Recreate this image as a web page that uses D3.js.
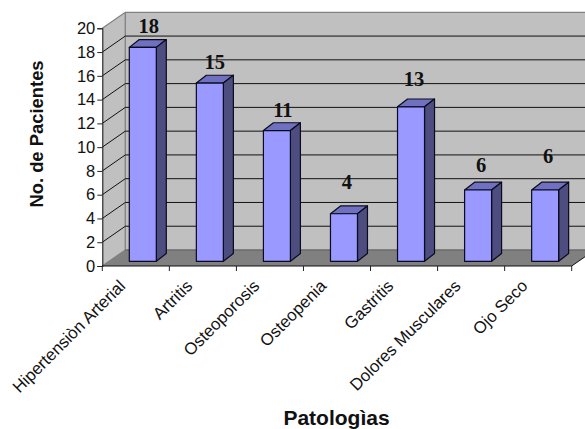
<!DOCTYPE html>
<html><head><meta charset="utf-8">
<script src="https://cdn.jsdelivr.net/npm/d3@7/dist/d3.min.js"></script>
<style>html,body{margin:0;padding:0;background:#fff;overflow:hidden}svg{display:block}</style></head>
<body><svg id="c" width="585" height="429"></svg>
<script>
const categories=["Hipertensiòn Arterial","Artritis","Osteoporosis","Osteopenia","Gastritis","Dolores Musculares","Ojo Seco"];
const values=[18,15,11,4,13,6,6];
const yTicks=[0,2,4,6,8,10,12,14,16,18,20];
const labelLift=[7,6,6,17,13,10,19];
const labelNudge=[1,0,1,-2,-2,-2,-2];

const svg=d3.select("#c");
const x=d3.scaleBand().domain(categories).range([102.3,571.7]);
const y=d3.scaleLinear().domain([0,20]).range([266,28.3]);
const dx=23,dy=-16;            // wall depth
const bdx=10,bdy=-7.8;         // bar depth
const barW=27,barInset=27,barDrop=-4.7;
const poly=(pts,fill,stroke,sw)=>svg.append("polygon").attr("points",pts.map(p=>p.join(",")).join(" "))
  .attr("fill",fill).attr("stroke",stroke||"none").attr("stroke-width",sw||0).attr("stroke-linejoin","round");
const x0=x.range()[0],x1=x.range()[1],y0=y(0),yT=y(20);

// walls and floor
poly([[x0+dx,yT+dy],[x1+dx,yT+dy],[x1+dx,y0+dy],[x0+dx,y0+dy]],"#c0c0c0");
poly([[x0,yT],[x0+dx,yT+dy],[x0+dx,y0+dy],[x0,y0]],"#c0c0c0");
poly([[x0,y0],[x0+dx,y0+dy],[x1+dx,y0+dy],[x1,y0]],"#808080");
svg.append("path").attr("fill","none").attr("stroke","#808080").attr("stroke-width",1.3)
  .attr("d",`M${x0},${yT}L${x0+dx},${yT+dy}L${x1+dx},${yT+dy}M${x0+dx},${yT+dy}L${x0+dx},${y0+dy}L${x0},${y0}`);
svg.append("line").attr("x1",x0+dx).attr("x2",x1+dx).attr("y1",y0+dy).attr("y2",y0+dy).attr("stroke","#6a6a6a").attr("stroke-width",1.3);

// gridlines
yTicks.filter(t=>t>0&&t<20).forEach(t=>{
  svg.append("path").attr("fill","none").attr("stroke","#111").attr("stroke-width",1)
    .attr("d",`M${x0},${y(t)}L${x0+dx},${y(t)+dy}L${x1+dx},${y(t)+dy}`);
});
svg.append("line").attr("x1",x1).attr("x2",x1+dx).attr("y1",y0).attr("y2",y0+dy).attr("stroke","#111");

// axes
const gy=svg.append("g").attr("transform",`translate(${x0},0)`).call(d3.axisLeft(y).tickValues(yTicks).tickSize(5).tickPadding(2));
gy.select(".domain").attr("stroke","#222").attr("stroke-width",1.1);
gy.selectAll(".tick line").attr("stroke","#222");
gy.selectAll("text").attr("font-family","Liberation Sans").attr("font-size",16.5).attr("fill","#111");

svg.append("line").attr("x1",x0).attr("x2",x1).attr("y1",y0).attr("y2",y0).attr("stroke","#111").attr("stroke-width",1);
[...categories.map(c=>x(c)),x1].forEach(p=>svg.append("line").attr("x1",p).attr("x2",p).attr("y1",y0).attr("y2",y0+5).attr("stroke","#222"));

categories.forEach(c=>{
  svg.append("text").text(c)
    .attr("transform",`translate(${x(c)+24},${y0+21}) rotate(-45)`)
    .attr("text-anchor","end")
    .attr("font-family","Liberation Sans").attr("font-size",16.8).attr("fill","#111");
});

// bars
const bb=y(0)+barDrop;
categories.forEach((c,i)=>{
  const l=x(c)+barInset,r=l+barW,t=y(values[i])+barDrop;
  poly([[l,t],[r,t],[r+bdx,t+bdy],[l+bdx,t+bdy]],"#7070c0","#0a0a20",1.2);
  poly([[r,t],[r+bdx,t+bdy],[r+bdx,bb+bdy],[r,bb]],"#4d4d80","#0a0a20",1.2);
  poly([[l,t],[r,t],[r,bb],[l,bb]],"#9999ff","#0a0a20",1.2);
  svg.append("text").text(values[i])
    .attr("x",l+(barW+bdx)/2+labelNudge[i]).attr("y",t+bdy-labelLift[i])
    .attr("text-anchor","middle").attr("font-family","Liberation Serif").attr("font-weight","bold")
    .attr("font-size",20.5).attr("fill","#111");
});

// titles
svg.append("text").text("Patologìas").attr("x",336.5).attr("y",425).attr("text-anchor","middle")
  .attr("font-family","Liberation Sans").attr("font-weight","bold").attr("font-size",21).attr("fill","#111");
svg.append("text").text("No. de Pacientes").attr("transform","translate(43,134) rotate(-90)").attr("text-anchor","middle")
  .attr("font-family","Liberation Sans").attr("font-weight","bold").attr("font-size",18.4).attr("fill","#111");
</script></body></html>
